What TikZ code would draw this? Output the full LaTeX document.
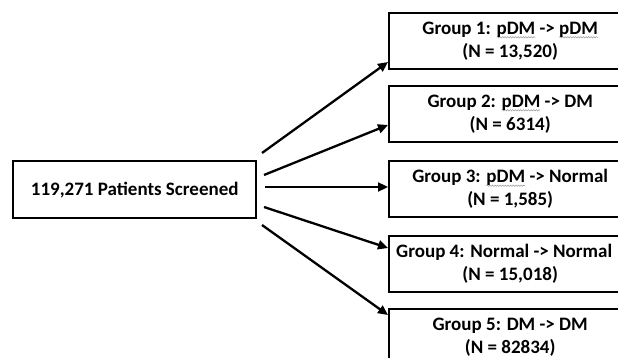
\documentclass[tikz,border=0pt]{standalone}
\usepackage{fontspec}
\setmainfont{Carlito}
\usetikzlibrary{arrows.meta,decorations.pathmorphing}
\newsavebox\wavebox
\newlength\wavelen
\newcommand\spellwave[1]{\sbox\wavebox{#1}\setlength\wavelen{\wd\wavebox}\rlap{\tikz[overlay,baseline=0pt,x=1pt,y=1pt]\draw[draw=gray!80,line width=0.5pt,decorate,decoration={snake,amplitude=0.7pt,segment length=2.6pt}] (0pt,-2.8pt) -- (\wavelen,-2.8pt);}\usebox\wavebox}
\begin{document}
\begin{tikzpicture}[x=1pt,y=-1pt,
  box/.style={draw=black,line width=2.4pt,minimum height=56pt,align=center,font=\fontsize{19}{23}\selectfont\bfseries,inner sep=0pt},
  grp/.style={box,minimum width=242pt,anchor=north west},
  arr/.style={line width=2.3pt,-{Triangle[length=10pt,width=9pt]}}]
\useasboundingbox (0,0) rectangle (618,358);
\clip (0,0) rectangle (618,358);
\node[box,minimum width=243pt,minimum height=57pt,anchor=north west] (src) at (12,160) {119,271 Patients Screened};
\node[grp] (g1) at (388,12) {Group 1: \spellwave{pDM} -> \spellwave{pDM}\\(N = 13,520)};
\node[grp] (g2) at (388,85) {Group 2: \spellwave{pDM} -> DM\\(N = 6314)};
\node[grp] (g3) at (388,160) {Group 3: \spellwave{pDM} -> Normal\\(N = 1,585)};
\node[grp] (g4) at (388,235) {Group 4: Normal -> Normal\hspace*{12pt}\\(N = 15,018)};
\node[grp] (g5) at (388,308) {Group 5: DM -> DM\\(N = 82834)};
\coordinate (s1) at (262,153);
\coordinate (s2) at (264,175);
\coordinate (s3) at (265,187);
\coordinate (s4) at (264,207);
\coordinate (s5) at (262,225);
\draw[arr] (s1) -- (g1.west |- 0,62);
\draw[arr] (s2) -- (g2.west |- 0,125);
\draw[arr] (s3) -- (g3.west |- 0,187);
\draw[arr] (s4) -- (g4.west |- 0,248);
\draw[arr] (s5) -- (g5.west |- 0,315);
\end{tikzpicture}
\end{document}
